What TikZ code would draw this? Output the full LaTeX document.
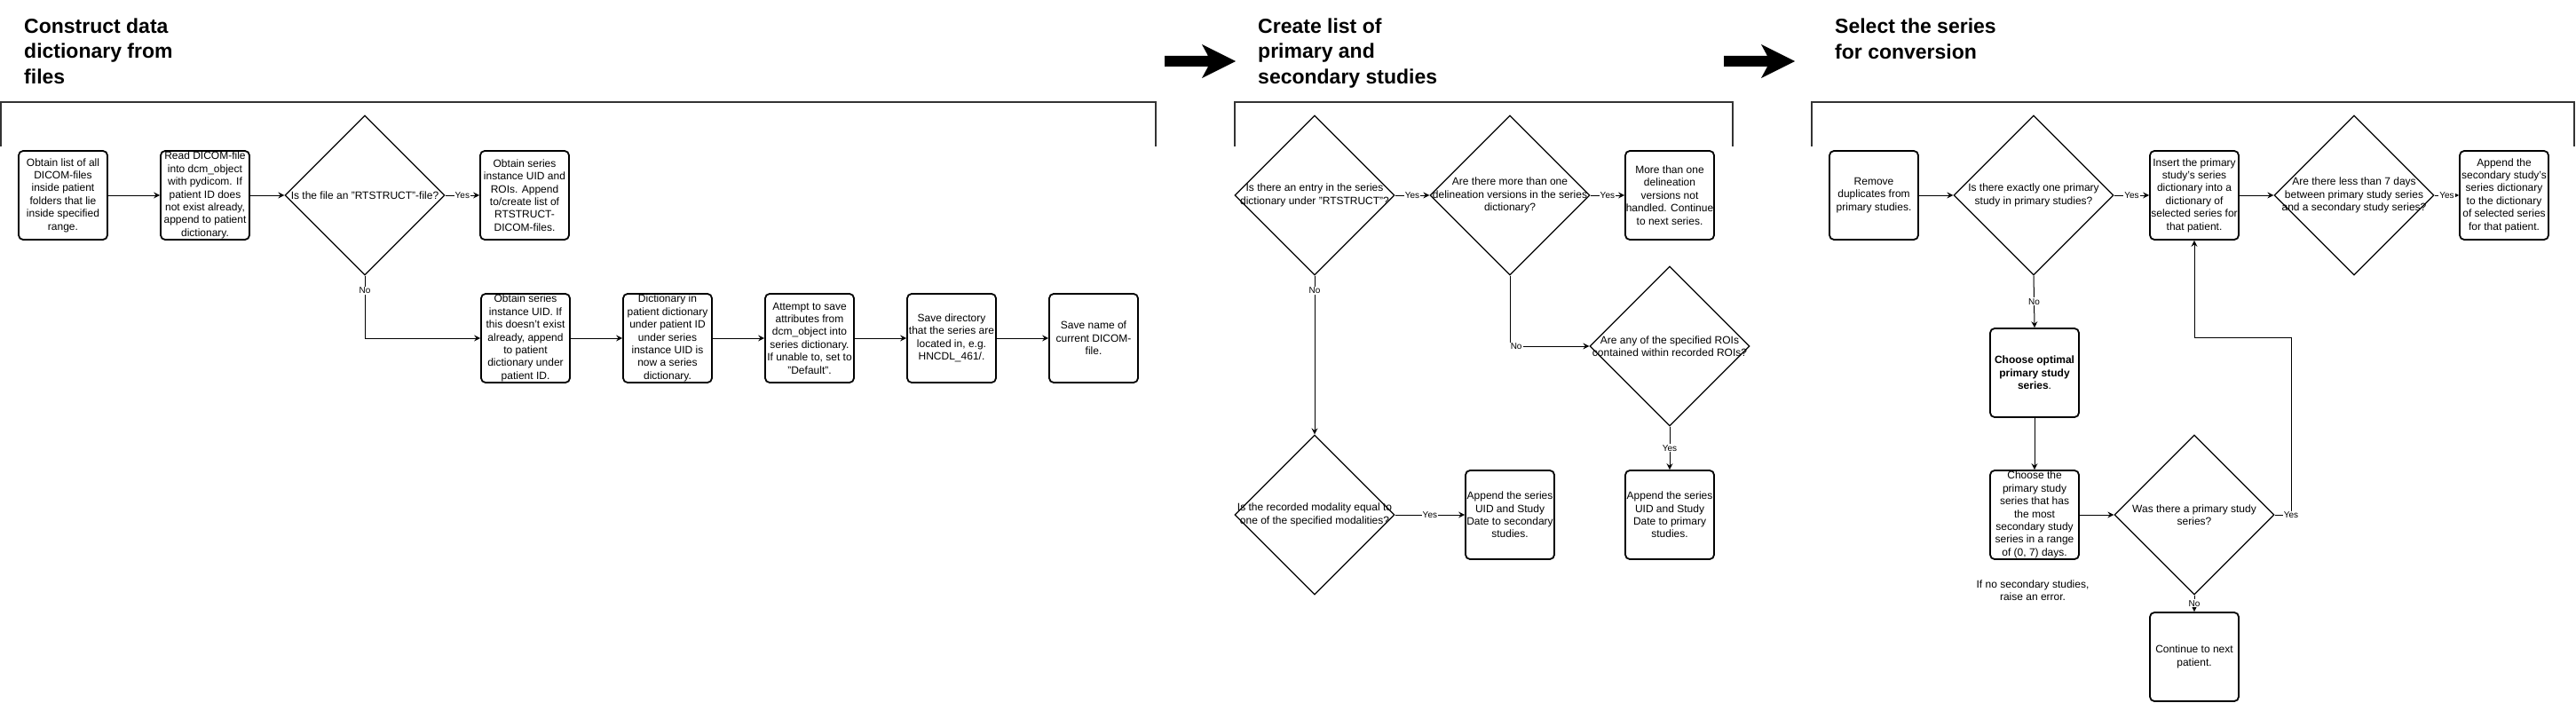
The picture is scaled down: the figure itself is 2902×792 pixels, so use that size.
\documentclass[tikz,border=0pt]{standalone}
\usepackage{fontspec}
\setmainfont{Liberation Sans}
\usetikzlibrary{shapes.geometric,arrows.meta}
\begin{document}
\begin{tikzpicture}[x=1pt,y=-1pt,
  box/.style={draw, line width=1.8pt, rounded corners=5pt, minimum width=100pt, minimum height=100pt, inner sep=0pt, align=center, font=\fontsize{12}{14.4}\selectfont},
  diam/.style={draw, diamond, line width=1.3pt, minimum width=180pt, minimum height=180pt, inner sep=0pt},
  dtxt/.style={align=center, inner sep=0pt, font=\fontsize{12}{14.4}\selectfont},
  arr/.style={line width=1pt, -{Stealth[length=7pt,width=7pt,inset=2.5pt]}},
  lbl/.style={fill=white, inner sep=1pt, font=\fontsize{10}{12}\selectfont},
  ttl/.style={anchor=base west, align=left, inner sep=0pt, font=\fontsize{23}{28.5}\selectfont\bfseries},
  bracket/.style={draw=black!80, line width=2pt},
  bigarrow/.style={fill=black}
]
\useasboundingbox (0,0) rectangle (2902,792);

% titles (base anchor = baseline of last line)
\node[ttl] (t1) at (27,94.5) {Construct data\\dictionary from\\files};
\node[ttl] (t2) at (1417,94.5) {Create list of\\primary and\\secondary studies};
\node[ttl] (t3) at (2067,66.5) {Select the series\\for conversion};

% big arrows
\fill[bigarrow] (1312,63) -- (1361,63) -- (1354,50) -- (1392,69) -- (1354,88) -- (1361,75) -- (1312,75) -- cycle;
\fill[bigarrow] (1942,63) -- (1991,63) -- (1984,50) -- (2022,69) -- (1984,88) -- (1991,75) -- (1942,75) -- cycle;

% containers
\draw[bracket] (1,165) -- (1,115) -- (1302,115) -- (1302,165);
\draw[bracket] (1391,165) -- (1391,115) -- (1952,115) -- (1952,165);
\draw[bracket] (2041,165) -- (2041,115) -- (2900,115) -- (2900,165);

% ---------- section 1 ----------
\node[box] (b1) at (71,220) {Obtain list of all\\DICOM-files\\inside patient\\folders that lie\\inside specified\\range.};
\node[box] (b2) at (231,220) {Read DICOM-file\\into dcm\_object\\with pydicom. If\\patient ID does\\not exist already,\\append to patient\\dictionary.};
\node[diam] (d1) at (411,220) {};
\node[dtxt] (d1t) at (d1) {Is the file an "RTSTRUCT"-file?};
\node[box] (b3) at (591,220) {Obtain series\\instance UID and\\ROIs. Append\\to/create list of\\RTSTRUCT-\\DICOM-files.};
\node[box] (b4) at (592,381) {Obtain series\\instance UID. If\\this doesn't exist\\already, append\\to patient\\dictionary under\\patient ID.};
\node[box] (b5) at (752,381) {Dictionary in\\patient dictionary\\under patient ID\\under series\\instance UID is\\now a series\\dictionary.};
\node[box] (b6) at (912,381) {Attempt to save\\attributes from\\dcm\_object into\\series dictionary.\\If unable to, set to\\"Default".};
\node[box] (b7) at (1072,381) {Save directory\\that the series are\\located in, e.g.\\HNCDL\_461/.};
\node[box] (b8) at (1232,381) {Save name of\\current DICOM-\\file.};

\draw[arr] (b1) -- (b2);
\draw[arr] (b2) -- (d1);
\draw[arr] (d1) -- node[lbl]{Yes} (b3);
\draw[arr] (d1.south) |- node[lbl,pos=0.12]{No} (b4.west);
\draw[arr] (b4) -- (b5);
\draw[arr] (b5) -- (b6);
\draw[arr] (b6) -- (b7);
\draw[arr] (b7) -- (b8);

% ---------- section 2 ----------
\node[diam] (d2) at (1481,220) {};
\node[dtxt] (d2t) at (d2) {Is there an entry in the series\\dictionary under "RTSTRUCT"?};
\node[diam] (d3) at (1701,220) {};
\node[dtxt] (d3t) at (d3) {Are there more than one\\delineation versions in the series\\dictionary?};
\node[box] (b9) at (1881,220) {More than one\\delineation\\versions not\\handled. Continue\\to next series.};
\node[diam] (d4) at (1881,390) {};
\node[dtxt] (d4t) at (d4) {Are any of the specified ROIs\\contained within recorded ROIs?};
\node[diam] (d5) at (1481,580) {};
\node[dtxt] (d5t) at (d5) {Is the recorded modality equal to\\one of the specified modalities?};
\node[box] (b10) at (1701,580) {Append the series\\UID and Study\\Date to secondary\\studies.};
\node[box] (b11) at (1881,580) {Append the series\\UID and Study\\Date to primary\\studies.};

\draw[arr] (d2) -- node[lbl]{Yes} (d3);
\draw[arr] (d3) -- node[lbl]{Yes} (b9);
\draw[arr] (d2.south) -- node[lbl,pos=0.094]{No} (d5.north);
\draw[arr] (d3.south) |- node[lbl,pos=0.54]{No} (d4.west);
\draw[arr] (d4.south) -- node[lbl]{Yes} (b11.north);
\draw[arr] (d5) -- node[lbl]{Yes} (b10);

% ---------- section 3 ----------
\node[box] (b12) at (2111,220) {Remove\\duplicates from\\primary studies.};
\node[diam] (d6) at (2291,220) {};
\node[dtxt] (d6t) at (d6) {Is there exactly one primary\\study in primary studies?};
\node[box] (b13) at (2472,220) {Insert the primary\\study's series\\dictionary into a\\dictionary of\\selected series for\\that patient.};
\node[diam] (d7) at (2652,220) {};
\node[dtxt] (d7t) at (d7) {Are there less than 7 days\\between primary study series\\and a secondary study series?};
\node[box] (b14) at (2821,220) {Append the\\secondary study's\\series dictionary\\to the dictionary\\of selected series\\for that patient.};
\node[box] (b15) at (2292,420) {\textbf{Choose optimal}\\\textbf{primary study}\\\textbf{series}.};
\node[box] (b16) at (2292,580) {Choose the\\primary study\\series that has\\the most\\secondary study\\series in a range\\of (0, 7) days.};
\node[diam] (d8) at (2472,580) {};
\node[dtxt] (d8t) at (d8) {Was there a primary study\\series?};
\node[box] (b17) at (2472,740) {Continue to next\\patient.};
\node[dtxt] (note) at (2290,665) {If no secondary studies,\\raise an error.};
\coordinate (c1) at (2581,380);

\draw[arr] (b12) -- (d6);
\draw[arr] (d6) -- node[lbl]{Yes} (b13);
\draw[arr] (b13) -- (d7);
\draw[arr] (d7) -- node[lbl]{Yes} (b14);
\draw[arr] (d6.south) -- node[lbl]{No} (b15.north);
\draw[arr] (b15) -- (b16);
\draw[arr] (b16) -- (d8);
\draw[arr] (d8.east) -| node[lbl,pos=0.5]{Yes} (c1) -| (b13.south);
\draw[arr] (d8.south) -- node[lbl]{No} (b17.north);
\end{tikzpicture}
\end{document}
